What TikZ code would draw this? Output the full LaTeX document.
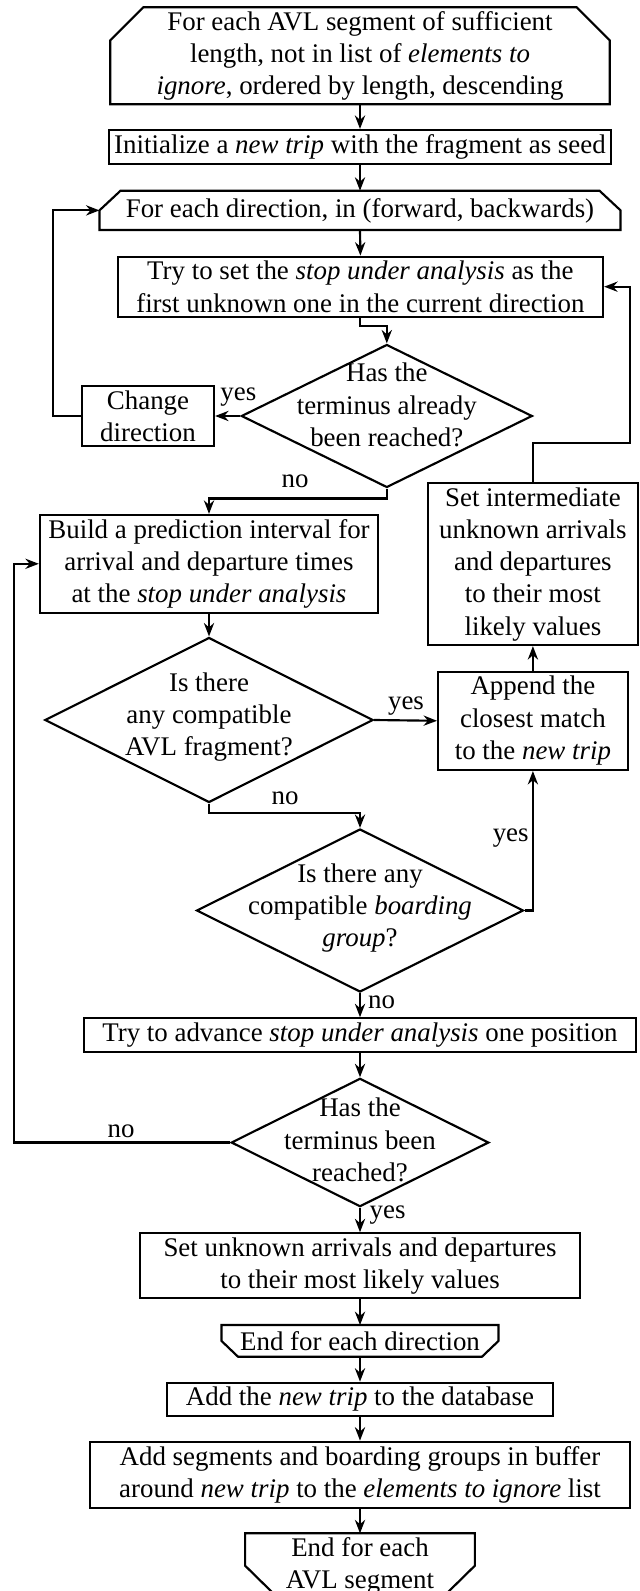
\documentclass[tikz,border=0pt]{standalone}
\usepackage{fontspec}
\setmainfont{Liberation Serif}
\usetikzlibrary{arrows.meta,shapes.geometric,calc}
\newcommand{\pxu}{0.37175pt}
\begin{document}
\begin{tikzpicture}[x=0.37175pt, y=-0.37175pt, line width=0.8pt,
  box/.style 2 args={draw, rectangle, inner sep=0pt, align=center, minimum width=#1*\pxu, minimum height=#2*\pxu},
  plain/.style 2 args={rectangle, inner sep=0pt, outer sep=0pt, align=center, minimum width=#1*\pxu, minimum height=#2*\pxu},
  dia/.style 2 args={draw, diamond, inner sep=0pt, minimum width=#1*\pxu, minimum height=#2*\pxu},
  txt/.style={inner sep=0pt, align=center},
  lbl/.style={inner sep=0pt, anchor=base},
  arr/.style={-{Stealth[length=5pt,width=3.8pt]}},
]
\useasboundingbox (0,0) rectangle (639,1591);
\clip (0,0) rectangle (639,1591);

% nodes
\node[plain={499.5}{97}] (top) at (360,55.8) {For each AVL segment of sufficient\\length, not in list of \emph{elements to}\\\emph{ignore}, ordered by length, descending};
\draw (top.south west) -- ($(top.north west)+(0,33)$) -- ($(top.north west)+(33,0)$) -- ($(top.north east)+(-33,0)$) -- ($(top.north east)+(0,33)$) -- (top.south east) -- cycle;

\node[box={502.3}{34}] (init) at (360,147) {Initialize a \emph{new trip} with the fragment as seed};

\node[plain={521}{39.3}] (fed) at (360,210.4) {For each direction, in (forward, backwards)};
\draw (fed.south west) -- ($(fed.north west)+(0,19.6)$) -- ($(fed.north west)+(21,0)$) -- ($(fed.north east)+(-21,0)$) -- ($(fed.north east)+(0,19.6)$) -- (fed.south east) -- cycle;

\node[box={485.3}{60}] (try) at (360.4,286.7) {Try to set the \emph{stop under analysis} as the\\first unknown one in the current direction};

\node[dia={291}{143}] (d1) at (386.8,416) {};
\node[txt] (d1t) at (386.8,405) {Has the\\terminus already\\been reached?};

\node[box={132}{60.3}] (chg) at (148,416) {Change\\direction};

\node[box={338.2}{97.7}] (build) at (209,563.8) {Build a prediction interval for\\arrival and departure times\\at the \emph{stop under analysis}};

\node[box={210.2}{161.7}] (setint) at (532.9,564.2) {Set intermediate\\unknown arrivals\\and departures\\to their most\\likely values};

\node[dia={328.3}{165}] (d2) at (209,720) {};
\node[txt] (d2t) at (209,717) {Is there\\any compatible\\AVL fragment?};

\node[box={189.6}{98.3}] (app) at (532.9,720.8) {Append the\\closest match\\to the \emph{new trip}};

\node[dia={327}{163}] (d3) at (360,910.5) {};
\node[txt] (d3t) at (360,908) {Is there any\\compatible \emph{boarding}\\\emph{group}?};

\node[box={551.8}{33.4}] (adv) at (360,1035) {Try to advance \emph{stop under analysis} one position};

\node[dia={257.6}{128.4}] (d4) at (360,1142.5) {};
\node[txt] (d4t) at (360,1140) {Has the\\terminus been\\reached?};

\node[box={440.1}{65}] (setu) at (360,1265.8) {Set unknown arrivals and departures\\to their most likely values};

\node[plain={276.9}{31.7}] (efd) at (360,1340.9) {End for each direction};
\draw (efd.north west) -- ($(efd.south west)+(0,-15.8)$) -- ($(efd.south west)+(16.5,0)$) -- ($(efd.south east)+(-16.5,0)$) -- ($(efd.south east)+(0,-15.8)$) -- (efd.north east) -- cycle;

\node[box={385.7}{33.3}] (addtrip) at (360,1399.4) {Add the \emph{new trip} to the database};

\node[box={539.4}{66}] (addseg) at (360,1474.7) {Add segments and boarding groups in buffer\\around \emph{new trip} to the \emph{elements to ignore} list};

\node[plain={229.7}{64.8}] (efa) at (360,1565.7) {End for each\\AVL segment};
\draw (efa.north west) -- ($(efa.south west)+(0,-32.4)$) -- ($(efa.south west)+(33,0)$) -- ($(efa.south east)+(-33,0)$) -- ($(efa.south east)+(0,-32.4)$) -- (efa.north east) -- cycle;

% connectors
\draw[arr] (top.south) -- (init.north);
\draw[arr] (init.south) -- (fed.north);
\draw[arr] (fed.south) -- (try.north);
\draw[arr] (try.south) -- ++(0,8.3) -| (d1.north);
\draw[arr] (d1.west) -- (chg.east);
\draw[arr] (chg.west) -- ++(-28,0) |- (fed.west);
\draw[arr] (d1.south) -- ++(0,10) -| (build.north);
\draw[arr] (build.south) -- (d2.north);
\draw[arr] (d2.east) -- (app.west);
\draw[arr] (d2.south) -- ++(0,9.4) -| (d3.north);
\draw[arr] (d3.east) -| (app.south);
\draw[arr] (app.north) -- (setint.south);
\draw[arr] (setint.north) -- ++(0,-39.3) -- ++(97.5,0) |- (try.east);
\draw[arr] (d3.south) -- (adv.north);
\draw[arr] (adv.south) -- (d4.north);
\draw[arr] (d4.west) -- ++(-216.4,0) |- (build.west);
\draw[arr] (d4.south) -- (setu.north);
\draw[arr] (setu.south) -- (efd.north);
\draw[arr] (efd.south) -- (addtrip.north);
\draw[arr] (addtrip.south) -- (addseg.north);
\draw[arr] (addseg.south) -- (efa.north);

% labels
\node[lbl] (l1) at (238.3,401) {yes};
\node[lbl] (l2) at (295,488) {no};
\node[lbl] (l3) at (406,709) {yes};
\node[lbl] (l4) at (285,804) {no};
\node[lbl] (l5) at (510.7,841) {yes};
\node[lbl] (l6) at (381.5,1008) {no};
\node[lbl] (l7) at (121,1137) {no};
\node[lbl] (l8) at (387.6,1218) {yes};
\end{tikzpicture}
\end{document}
